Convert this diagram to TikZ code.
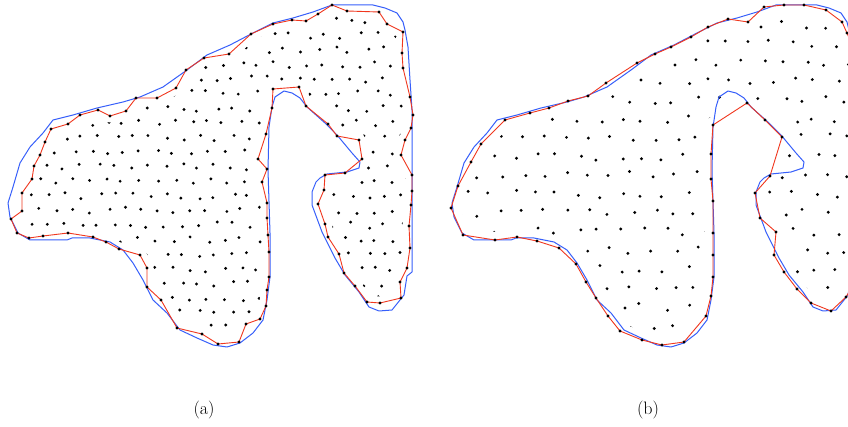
\documentclass[tikz,border=0pt]{standalone}
\usepackage{tikz}
\definecolor{bndblue}{RGB}{55,95,250}
\definecolor{polyred}{RGB}{240,55,30}
\tikzset{
  blueline/.style={draw=bndblue, line width=1pt, line join=round},
  redline/.style={draw=polyred, line width=0.9pt, line join=round},
  eraser/.style={draw=white, line width=13pt, line join=round},
  lbl/.style={font=\fontsize{18}{21}\selectfont, inner sep=0pt}
}
\def\blueA{332/5, 373/5, 385/8, 397/13, 403/22, 405/30, 408/47, 410/80, 412/110, 412/272, 407/276, 404/295, 392/310, 379/311, 369/307, 359/292, 345/275, 335/258, 322/232, 312/205, 312/192, 316/182, 320/178, 327/174, 347/172, 359/168, 360/162, 352/153, 337/135, 325/123, 307/107, 300/98, 292/93, 284/91, 275/97, 272/107, 269/127, 268/170, 270/233, 270/277, 267/300, 263/320, 253/333, 240/343, 227/347, 213/345, 197/338, 180/330, 167/313, 153/300, 143/280, 133/263, 123/250, 110/242, 90/238, 72/238, 67/240, 30/240, 18/233, 10/217, 8/203, 13/187, 20/163, 30/147, 43/133, 53/120, 73/115, 97/108, 123/102, 140/97, 163/87, 187/70, 207/55, 230/45, 253/33, 273/23, 293/18, 313/12}
\def\redA{332/5, 347/11, 379/12, 387/24, 403/32, 402/53, 403/68, 410/97, 413/115, 411/128, 405/140, 401/155, 412/175, 412/191, 411/205, 409/226, 410/248, 407/268, 400/282, 401/298, 380/303, 367/302, 355/286, 344/273, 339/254, 328/237, 325/224, 318/204, 324/190, 325/175, 345/173, 362/159, 359/140, 337/136, 328/124, 306/106, 299/87, 273/89, 272/108, 266/134, 258/159, 267/169, 262/182, 267/203, 267/218, 268/235, 269/252, 269/277, 267/290, 266/306, 260/319, 246/324, 239/342, 218/344, 202/334, 177/328, 161/300, 147/287, 147/268, 140/255, 119/249, 106/242, 93/237, 68/233, 43/236, 29/238, 17/233, 11/219, 22/211, 22/193, 32/179, 34/166, 40/155, 45/142, 51/129, 68/124, 80/115, 98/110, 110/116, 126/111, 136/98, 157/98, 176/88, 186/70, 204/58, 229/54, 251/34, 273/24, 292/20, 306/21, 318/14}
\def\redB{764/7, 784/5, 804/5, 826/10, 842/22, 847/33, 858/60, 862/150, 862/270, 846/297, 831/311, 811/303, 797/289, 784/272, 774/255, 776/232, 760/218, 755/193, 770/176, 782/137, 765/120, 747/103, 713/125, 711/154, 711/179, 713/201, 713/233, 713/255, 713/277, 711/296, 706/316, 684/342, 662/345, 642/340, 620/331, 608/316, 596/298, 586/282, 576/264, 559/248, 537/241, 517/237, 495/240, 463/235, 451/208, 458/186, 471/162, 481/144, 505/120, 530/113, 549/108, 568/101, 588/96, 606/83, 637/63, 655/54, 671/47, 691/37, 708/27, 728/19, 748/22}
\begin{document}
\begin{tikzpicture}[x=1pt,y=-1pt]
\useasboundingbox (0,0) rectangle (848,427);
\pgfmathsetseed{12}
\begin{scope}
\clip (0,0) rectangle (848,427);
% ---------- (a) interior points
\begin{scope}
\clip (332,5) \foreach \x/\y in \redA {-- (\x,\y)} -- cycle;
\foreach \i in {0,...,24} {
  \foreach \j in {0,...,25} {
    \pgfmathsetmacro\px{6+\j*16.8+mod(\i,2)*8.4+3.6*rand}
    \pgfmathsetmacro\py{6+\i*14.6+3.2*rand}
    \fill[black] (\px,\py) circle[radius=1.6pt];
  }
}
\end{scope}
\draw[eraser] (332,5) \foreach \x/\y in \redA {-- (\x,\y)} -- cycle;
% ---------- (b) interior points
\begin{scope}
\clip (764,7) \foreach \x/\y in \redB {-- (\x,\y)} -- cycle;
\foreach \i in {0,...,19} {
  \foreach \j in {0,...,19} {
    \pgfmathsetmacro\px{448+\j*21.6+mod(\i,2)*10.8+4.2*rand}
    \pgfmathsetmacro\py{6+\i*18.8+3.8*rand}
    \fill[black] (\px,\py) circle[radius=1.6pt];
  }
}
\end{scope}
\draw[eraser, line width=16pt] (764,7) \foreach \x/\y in \redB {-- (\x,\y)} -- cycle;
% ---------- boundaries
\draw[blueline] (332,5) \foreach \x/\y in \blueA {-- (\x,\y)} -- cycle;
\begin{scope}[xshift=444pt]
\draw[blueline] (332,5) \foreach \x/\y in \blueA {-- (\x,\y)} -- cycle;
\end{scope}
\draw[redline] (332,5) \foreach \x/\y in \redA {-- (\x,\y)} -- cycle;
\draw[redline] (764,7) \foreach \x/\y in \redB {-- (\x,\y)} -- cycle;
\foreach \x/\y in \redA {\fill[black] (\x,\y) circle[radius=1.7pt];}
\foreach \x/\y in \redB {\fill[black] (\x,\y) circle[radius=1.7pt];}
\end{scope}
\node[lbl] (la) at (204,410) {(a)};
\node[lbl] (lb) at (648,410) {(b)};
\end{tikzpicture}
\end{document}
